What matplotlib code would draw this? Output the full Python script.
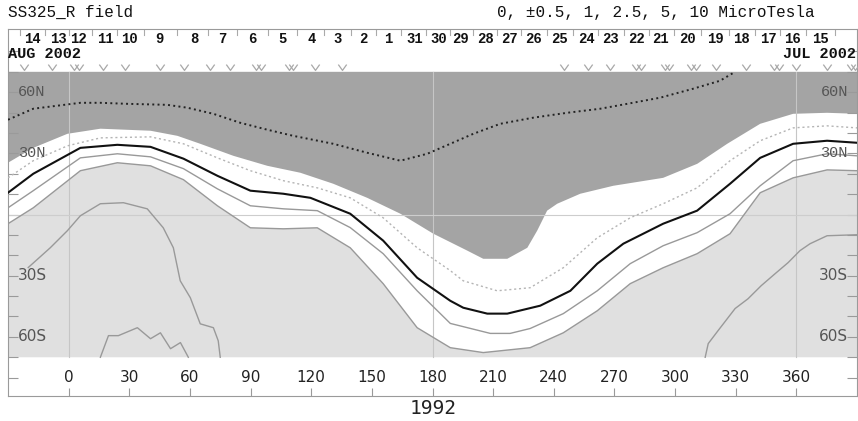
import matplotlib
matplotlib.use("Agg")
import matplotlib.pyplot as plt
from matplotlib.path import Path

# contour curves, (longitude, latitude) pairs
dotted_lon = [-30, -17.5, 5.8, 15.7, 29.1, 48.8, 58.7, 71.6, 84.9, 98.3, 111.1, 130.9, 147.7,
              164.1, 177.4, 188.8, 200.2, 213.5, 229.8, 246.6, 263.0, 276.3, 292.6, 308.9, 322.2, 329.7]
dotted_lat = [46.5, 51.9, 54.8, 54.8, 54.3, 53.8, 52.4, 49.4, 45.0, 41.6, 38.6, 34.7, 30.3,
              26.4, 29.8, 34.7, 39.6, 44.5, 47.5, 49.9, 51.9, 54.3, 57.3, 61.7, 65.6, 70.0]

dark_lon = [-30, -17.5, -0.6, 15.7, 40.5, 53.8, 65.1, 81.5, 98.3, 114.6, 130.9, 147.7, 164.1,
            180.4, 197.2, 205.1, 217.0, 226.9, 231.8, 236.7, 241.7, 253.1, 269.4, 294.1, 311.0,
            325.8, 342.1, 358.4, 375.2, 390]
dark_lat = [25.4, 32.7, 39.6, 42.1, 41.1, 38.6, 34.7, 28.8, 23.9, 20.5, 15.1, 8.2, 0.4,
            -9.4, -17.7, -21.7, -21.7, -16.3, -7.9, 1.9, 5.3, 10.2, 14.1, 18.0, 24.9,
            34.7, 44.5, 49.4, 49.9, 49.4]

half_lon = [-30, -17.5, -0.6, 15.7, 40.5, 56.8, 73.6, 89.9, 106.2, 123.0, 139.3, 155.6, 172.4,
            188.8, 195.2, 212.0, 228.3, 244.7, 261.5, 277.8, 294.1, 310.9, 327.2, 342.1, 358.4,
            375.2, 390]
half_lat = [18.0, 26.4, 33.7, 37.6, 38.1, 34.7, 27.8, 21.5, 16.6, 13.1, 8.2, -1.6, -16.3,
            -27.5, -32.5, -37.4, -35.9, -26.1, -11.4, -1.6, 5.3, 13.1, 26.4, 36.2, 42.5,
            43.5, 42.5]

zero_lon = [-30, -17.5, 5.8, 24.1, 40.5, 56.8, 73.6, 89.9, 106.2, 119.6, 139.3, 155.6, 172.4,
            188.8, 195.2, 207.1, 217.0, 233.3, 248.2, 261.5, 274.4, 294.1, 310.9, 327.2, 342.1,
            358.4, 375.2, 390]
zero_lat = [10.7, 20.0, 32.7, 34.2, 33.2, 27.4, 19.0, 11.7, 10.2, 8.2, 0.4, -12.8, -31.0,
            -42.3, -45.7, -48.6, -48.6, -44.7, -37.4, -24.1, -14.3, -4.5, 1.9, 15.1, 27.8,
            34.7, 36.2, 35.2]

one_lon = [-30, -17.5, 5.8, 24.1, 40.5, 56.8, 73.6, 89.9, 106.2, 123.0, 139.3, 155.6, 172.4,
           188.8, 208.6, 218.4, 228.3, 244.7, 261.5, 277.8, 294.1, 310.9, 327.2, 342.1, 358.4,
           375.2, 390]
one_lat = [3.3, 11.7, 27.8, 29.8, 28.3, 22.5, 12.6, 4.3, 2.8, 1.9, -6.4, -19.2, -37.4,
           -53.4, -58.3, -58.3, -55.9, -48.6, -37.4, -24.1, -15.3, -8.9, 0.4, 14.1, 26.4,
           29.8, 28.8]

light_lon = [-30, -17.5, 5.8, 24.1, 40.5, 56.8, 73.6, 89.9, 106.2, 123.0, 139.3, 155.6, 172.4,
             188.8, 205.1, 228.3, 244.7, 261.5, 277.8, 294.1, 310.9, 327.2, 342.1, 358.4,
             375.2, 390]
light_lat = [-4.5, 3.3, 21.5, 25.4, 23.9, 17.1, 4.3, -6.5, -7.0, -6.5, -16.3, -33.9, -55.5,
             -65.3, -67.7, -65.3, -58.0, -47.2, -33.9, -26.1, -19.2, -9.4, 10.7, 18.0,
             21.9, 21.5]

hump_lon = [-20.0, -9.1, -0.6, 5.8, 15.7, 27.1, 38.9, 46.8, 51.8, 55.2, 60.2, 65.1, 71.6, 74.0, 75.0]
hump_lat = [-26.0, -16.3, -7.9, -0.6, 5.3, 5.8, 2.8, -6.5, -16.3, -32.5, -40.8, -53.6,
            -55.5, -61.9, -70.0]

south_lon = [15.7, 19.7, 24.6, 34.0, 40.5, 45.4, 50.4, 55.3, 59.2]
south_lat = [-70.0, -59.4, -59.4, -55.5, -60.9, -58.0, -65.8, -62.8, -70.0]

east_lon = [314.9, 316.4, 321.3, 329.7, 336.1, 342.6, 349.5, 355.9, 361.8, 366.8, 375.2, 390]
east_lat = [-70.0, -63.3, -56.9, -46.1, -41.3, -34.9, -29.0, -23.6, -17.7, -14.3, -10.4, -9.9]

# orbit day labels along the top
days = ['14', '13', '12', '11', '10', '9', '8', '7', '6', '5', '4', '3', '2', '1', '31', '30',
        '29', '28', '27', '26', '25', '24', '23', '22', '21', '20', '19', '18', '17', '16', '15']
day_lon = [-18, -5, 5, 18, 30, 45, 62, 76, 91, 106, 120, 133, 146, 158, 171, 183,
           194, 206, 218, 230, 243, 256, 268, 281, 293, 306, 320, 333, 346, 358, 372]

# pass markers
pass_lon = [-22, -8, 4, 17, 28, 45, 57, 70, 80, 94, 110, 122, 135,
            245, 257, 268, 282, 296, 309, 320, 335, 350, 360, 375, 388]
double_pass = [4, 94, 110, 282, 296, 309, 350, 388]

lon_ticks = list(range(0, 361, 30))

fig = plt.figure(figsize=(8.58, 4.21), dpi=100)
ax = fig.add_axes([8 / 858, 25 / 421, 849 / 858, 367 / 421])
ax.set_xlim(-30, 390)
ax.set_ylim(-89, 91)

# shaded zones
ax.fill(dark_lon + [390, -30], dark_lat + [70, 70], color='#a4a4a4', lw=0, zorder=1)
ax.fill(light_lon + [390, -30], light_lat + [-70, -70], color='#e0e0e0', lw=0, zorder=1)

# grid
for g in [0, 180, 360]:
    ax.plot([g, g], [-70, 70], color='#c6c6c6', lw=0.8, zorder=2)
ax.plot([-30, 390], [0, 0], color='#cdcdcd', lw=0.8, zorder=2)

# contours
ax.plot(dotted_lon, dotted_lat, color='#222222', lw=1.4, ls=(0, (1, 1.7)), dash_capstyle='butt', zorder=3)
ax.plot(half_lon, half_lat, color='#b4b4b4', lw=1.0, ls=(0, (1.5, 2)), zorder=3)
ax.plot(zero_lon, zero_lat, color='#111111', lw=1.5, zorder=4)
ax.plot(one_lon, one_lat, color='#999999', lw=1.0, zorder=3)
ax.plot(light_lon, light_lat, color='#999999', lw=1.0, zorder=3)
ax.plot(hump_lon, hump_lat, color='#999999', lw=1.0, zorder=3)
ax.plot(south_lon, south_lat, color='#999999', lw=1.0, zorder=3)
ax.plot(east_lon, east_lat, color='#999999', lw=1.0, zorder=3)

# axes frame and ticks
for s in ax.spines.values():
    s.set_color('#9a9a9a')
    s.set_linewidth(0.8)
ax.set_xticks(lon_ticks)
ax.set_yticks(range(-80, 81, 10))
ax.tick_params(axis='x', direction='in', length=6, color='#9a9a9a', labelbottom=False)
ax.tick_params(axis='y', direction='in', length=7, color='#9a9a9a', left=True, right=True,
               labelleft=False)

for t in lon_ticks:
    ax.text(t, -80, str(t), ha='center', va='center', fontsize=11, color='#222222',
            family='DejaVu Sans', zorder=5)

lat_labels = {60: '60N', 30: '30N', -30: '30S', -60: '60S'}
for lat, lab in lat_labels.items():
    fam = 'Liberation Mono' if lab.endswith('N') else 'DejaVu Sans'
    ax.text(-25, lat, lab, ha='left', va='center', fontsize=11, color='#555555', family=fam, zorder=6)
    ax.text(385.5, lat, lab, ha='right', va='center', fontsize=11, color='#555555', family=fam, zorder=6)

# day strip
for d, x in zip(days, day_lon):
    ax.text(x, 86.2, d, ha='center', va='center', fontsize=10, fontweight='bold',
            family='Liberation Mono', color='#111111')
seps = [day_lon[0] - 6] + [(a + b) / 2 for a, b in zip(day_lon[:-1], day_lon[1:])] + [day_lon[-1] + 7]
for x in seps:
    ax.plot([x, x], [91, 88], color='#aaaaaa', lw=0.8)
ax.text(-30, 78.8, 'AUG 2002', ha='left', va='center', fontsize=11, fontweight='bold',
        family='Liberation Mono', color='#111111')
ax.text(389.5, 78.5, 'JUL 2002', ha='right', va='center', fontsize=11, fontweight='bold',
        family='Liberation Mono', color='#111111')

# open chevron for each pass
chevron = Path([(-1, 0.7), (0, -0.7), (1, 0.7)], [Path.MOVETO, Path.LINETO, Path.LINETO])
for x in pass_lon:
    offs = [-1.2, 1.2] if x in double_pass else [0]
    for o in offs:
        ax.plot([x + o], [72.2], marker=chevron, ms=6, mfc='none', mec='#a8a8a8', mew=0.9,
                ls='none', zorder=3)

fig.text(8 / 858, 1 - 12 / 421, 'SS325_R field', ha='left', va='center', fontsize=11.5,
         family='Liberation Mono', color='#111111')
fig.text(815 / 858, 1 - 12 / 421, '0, \u00b10.5, 1, 2.5, 5, 10 MicroTesla', ha='right', va='center',
         fontsize=11.5, family='Liberation Mono', color='#111111')
fig.text(433 / 858, 1 - 408 / 421, '1992', ha='center', va='center', fontsize=14,
         family='DejaVu Sans Mono', color='#222222')

fig.savefig('out.png', dpi=100)
